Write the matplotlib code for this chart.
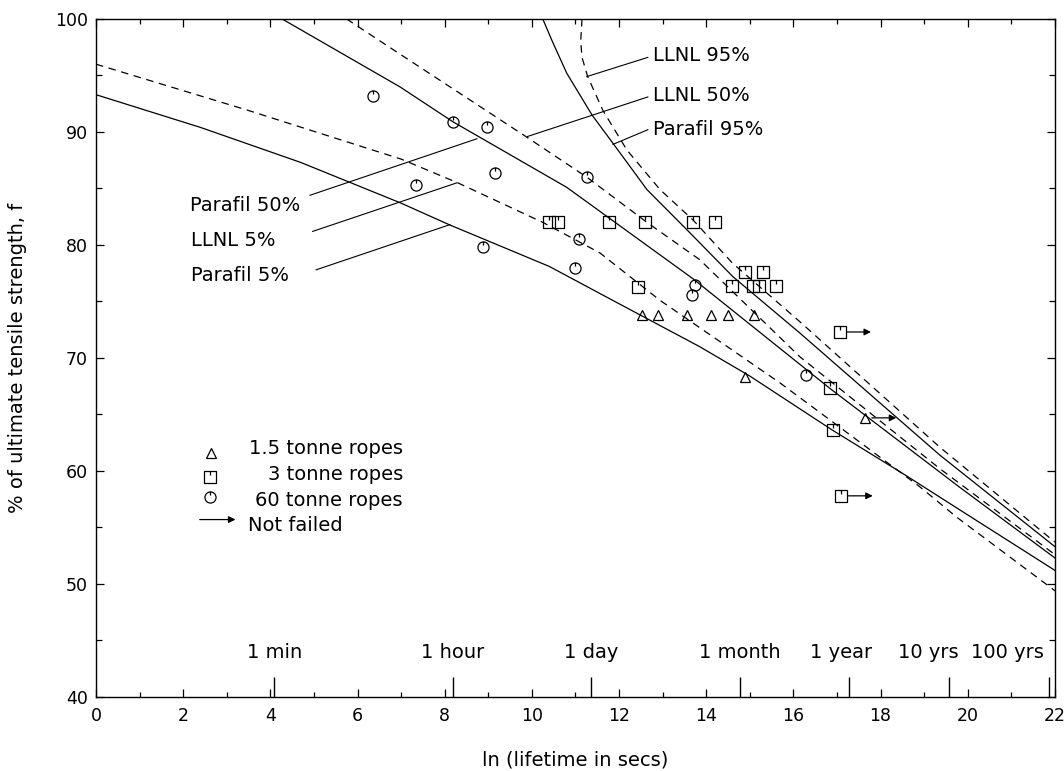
import numpy as np
import matplotlib
matplotlib.use("Agg")
import matplotlib.pyplot as plt
from matplotlib.path import Path

plt.rcParams['font.family'] = ['DejaVu Sans']

# --- model curves (ln lifetime, % UTS) ---
parafil5_x = [0, 2.4, 4.7, 7.0, 8.1, 10.4, 12.0, 13.85, 15.0, 16.9, 18.5, 19.8, 22]
parafil5_y = [93.3, 90.4, 87.3, 83.7, 81.8, 78.1, 74.8, 71.0, 68.4, 63.6, 59.8, 56.6, 51.2]

llnl5_x = [0, 3.5, 7.0, 8.3, 10.25, 11.56, 12.94, 15.69, 16.6, 17.75, 18.9, 19.75, 22]
llnl5_y = [96.0, 91.9, 87.6, 85.5, 82.0, 79.3, 75.1, 67.8, 65.2, 61.9, 58.6, 55.9, 49.4]

parafil50_x = [4.27, 6.97, 8.19, 10.8, 13.7, 16.84, 19.8, 22]
parafil50_y = [100, 94.0, 90.9, 85.1, 77.0, 67.3, 58.6, 52.3]

llnl50_x = [5.75, 6.97, 9.9, 11.26, 12.64, 13.85, 16.15, 19.36, 22]
llnl50_y = [100, 96.9, 89.5, 86.0, 82.0, 78.7, 70.1, 60.2, 52.6]

parafil95_x = [10.25, 10.46, 10.8, 11.38, 11.86, 12.64, 13.62, 14.61, 16.15, 19.36, 22]
parafil95_y = [100, 98.1, 95.2, 91.5, 89.0, 84.9, 81.1, 77.2, 72.2, 61.4, 53.3]

llnl95_x = [11.15, 11.12, 11.15, 11.28, 11.63, 12.18, 12.94, 13.7, 14.6, 16.15, 19.36, 22]
llnl95_y = [100, 98.0, 96.6, 94.9, 91.9, 88.4, 84.9, 82.2, 78.4, 73.2, 62.1, 53.7]

# --- test results ---
tri_x = [12.52, 12.9, 13.56, 14.12, 14.5, 15.1, 14.89]
tri_y = [73.8, 73.8, 73.8, 73.8, 73.8, 73.8, 68.3]
sq_x = [10.39, 10.6, 11.77, 12.6, 13.7, 14.2, 12.43, 14.9, 15.3, 14.6, 15.07, 15.2, 15.6, 16.84, 16.9]
sq_y = [82, 82, 82, 82, 82, 82, 76.3, 77.6, 77.6, 76.4, 76.4, 76.4, 76.4, 67.3, 63.6]
circ_x = [6.35, 8.19, 8.97, 9.15, 7.34, 11.26, 8.87, 11.08, 10.99, 13.74, 13.67, 16.3]
circ_y = [93.2, 90.9, 90.4, 86.4, 85.3, 86.0, 79.8, 80.5, 78.0, 76.5, 75.6, 68.5]

# not failed (run-outs)
nf_tri_x, nf_tri_y = [17.64], [64.7]
nf_sq_x, nf_sq_y = [17.06, 17.1], [72.3, 57.8]

# time marks on the ln(seconds) axis
time_secs = [60, 3600, 86400, 2.592e6, 3.1536e7, 3.1536e8, 3.1536e9]
time_names = ['1 min', '1 hour', '1 day', '1 month', '1 year', '10 yrs', '100 yrs']
time_label_x = [4.09, 8.19, 11.37, 14.77, 17.1, 19.1, 20.9]

# marker shapes: open circle / square with a small stroke at the top
circ_m = Path.make_compound_path(Path.unit_circle(),
                                 Path([[0, 0.35], [0, 1.0]], [Path.MOVETO, Path.LINETO]))
sq_m = Path.make_compound_path(
    Path([[-1, -1], [1, -1], [1, 1], [-1, 1], [-1, -1]],
         [Path.MOVETO, Path.LINETO, Path.LINETO, Path.LINETO, Path.CLOSEPOLY]),
    Path([[0, 0.3], [0, 1.0]], [Path.MOVETO, Path.LINETO]))

fig = plt.figure(figsize=(10.64, 7.71), dpi=100)
ax = fig.add_axes([0.0902, 0.0960, 0.9013, 0.8794])

lw = 0.9
dash = (0, (6, 4.5))
ax.plot(parafil5_x, parafil5_y, color='k', lw=lw)
ax.plot(parafil50_x, parafil50_y, color='k', lw=lw)
ax.plot(parafil95_x, parafil95_y, color='k', lw=lw)
ax.plot(llnl5_x, llnl5_y, color='k', lw=lw, ls=dash)
ax.plot(llnl50_x, llnl50_y, color='k', lw=lw, ls=dash)
ax.plot(llnl95_x, llnl95_y, color='k', lw=lw, ls=dash)

mk = dict(ls='none', mfc='none', mec='k', mew=0.9)
ax.plot(tri_x + nf_tri_x, tri_y + nf_tri_y, marker='^', ms=7, **mk)
ax.plot(sq_x + nf_sq_x, sq_y + nf_sq_y, marker=sq_m, ms=8, **mk)
ax.plot(circ_x, circ_y, marker=circ_m, ms=8, **mk)

arr = dict(arrowstyle='-|>', color='k', lw=0.9, mutation_scale=10, shrinkA=0, shrinkB=0)
for x, y in zip(nf_sq_x + nf_tri_x, nf_sq_y + nf_tri_y):
    ax.annotate('', xy=(x + 0.72, y), xytext=(x + 0.16, y), arrowprops=arr)

# curve labels with leader lines
fs = 14
leaders = [
    ('LLNL 95%', 12.78, 96.8, (12.66, 96.6), (11.26, 94.9)),
    ('LLNL 50%', 12.78, 93.2, (12.66, 93.1), (9.9, 89.6)),
    ('Parafil 95%', 12.78, 90.2, (12.66, 90.2), (11.86, 88.9)),
    ('Parafil 50%', 2.15, 83.5, (4.91, 84.4), (8.74, 89.4)),
    ('LLNL 5%', 2.18, 80.4, (4.97, 81.2), (8.28, 85.5)),
    ('Parafil 5%', 2.18, 77.3, (5.05, 77.8), (8.12, 81.8)),
]
for txt, tx, ty, p0, p1 in leaders:
    ax.text(tx, ty, txt, fontsize=fs, ha='left', va='center')
    ax.plot([p0[0], p1[0]], [p0[1], p1[1]], color='k', lw=0.8)

# legend drawn by hand
ax.plot([2.65], [61.6], marker='^', ms=7, **mk)
ax.plot([2.61], [59.5], marker=sq_m, ms=8, **mk)
ax.plot([2.61], [57.7], marker=circ_m, ms=8, **mk)
ax.annotate('', xy=(3.2, 55.7), xytext=(2.38, 55.7), arrowprops=arr)
ax.text(7.04, 62.0, '1.5 tonne ropes', fontsize=fs, ha='right', va='center')
ax.text(7.04, 59.7, '3 tonne ropes', fontsize=fs, ha='right', va='center')
ax.text(7.04, 57.4, '60 tonne ropes', fontsize=fs, ha='right', va='center')
ax.text(3.49, 55.2, 'Not failed', fontsize=fs, ha='left', va='center')

# time scale ticks along the bottom
tpos = np.log(time_secs)
ax.vlines(tpos, 40, 41.75, color='k', lw=1.0)
for name, lx in zip(time_names, time_label_x):
    ax.text(lx, 43.9, name, fontsize=fs, ha='center', va='center')

ax.set_xlim(0, 22)
ax.set_ylim(40, 100)
ax.set_xticks(np.arange(0, 23, 2))
ax.set_xticks(np.arange(1, 22, 2), minor=True)
ax.set_yticks(np.arange(40, 101, 10))
ax.set_yticks(np.arange(45, 100, 10), minor=True)
ax.tick_params(which='both', direction='in', top=True, right=True, labelsize=12.5, width=0.9)
ax.tick_params(axis='x', which='major', length=6, pad=7)
ax.tick_params(axis='x', which='minor', length=3.5)
ax.tick_params(axis='y', which='major', length=5.5, pad=6)
ax.tick_params(axis='y', which='minor', length=4)
for s in ax.spines.values():
    s.set_linewidth(1.0)

ax.set_xlabel('ln (lifetime in secs)', fontsize=fs)
ax.xaxis.label.set_va('center')
ax.xaxis.set_label_coords(0.5, -0.093)
ax.set_ylabel('% of ultimate tensile strength, f', fontsize=fs)
ax.yaxis.label.set_va('center')
ax.yaxis.set_label_coords(-0.082, 0.5)

fig.savefig('out.png', dpi=100)
